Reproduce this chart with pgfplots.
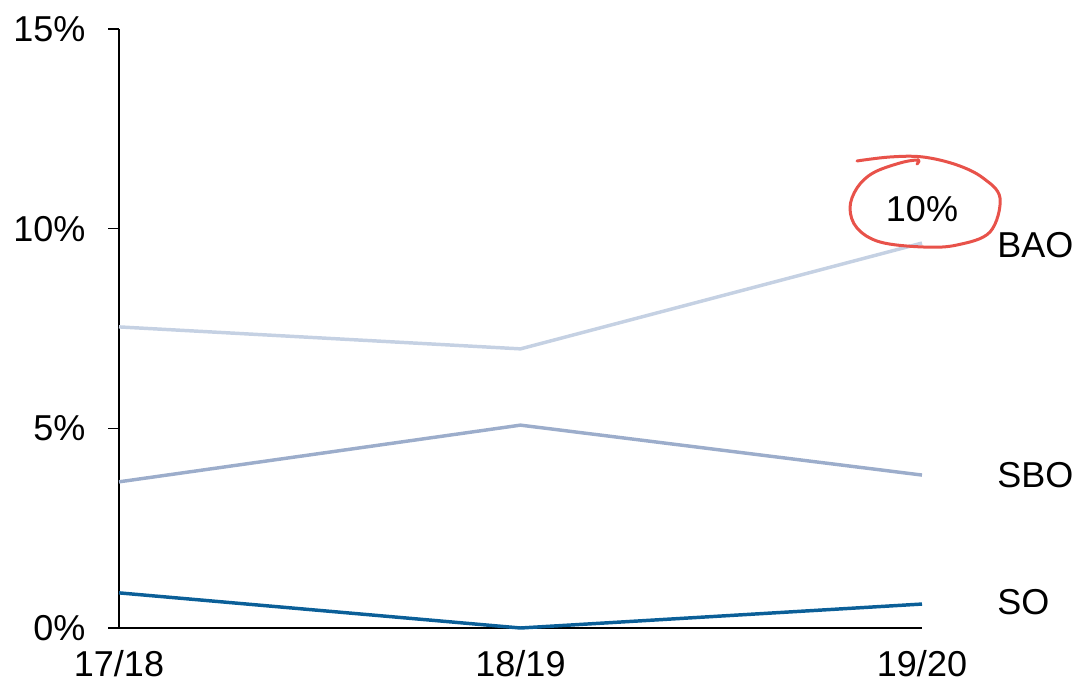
\documentclass[border=0pt]{standalone}
\usepackage{pgfplots}
\pgfplotsset{compat=1.18}
\usepackage{fontspec}
\setmainfont{Liberation Sans}
\definecolor{bao}{HTML}{C5D1E3}
\definecolor{sbo}{HTML}{9CADCB}
\definecolor{so}{HTML}{0B5F98}
\definecolor{redmark}{HTML}{E8524A}
\begin{document}
\fontsize{27pt}{32pt}\selectfont
\begin{tikzpicture}
\begin{axis}[
  scale only axis,
  width=602.25pt, height=449.25pt,
  xmin=0, xmax=2, ymin=0, ymax=15,
  axis x line=bottom, axis y line=left,
  axis line style={-, line width=0.9pt, black},
  xtick={0,1,2}, xticklabels={17/18,18/19,19/20},
  ytick={0,5,10,15}, yticklabels={0\%,5\%,10\%,15\%},
  x tick style={draw=none},
  y tick style={line width=0.9pt, black},
  tick align=outside, major tick length=8pt,
  xticklabel style={anchor=north, inner sep=0pt, yshift=-8.25pt},
  yticklabel style={anchor=east, inner sep=0pt, xshift=-17pt},
  /pgf/number format/assume math mode=true,
  clip=false,
]
\addplot[bao, line width=2.6pt] coordinates {(0,7.54) (1,6.99) (2,9.64)};
\addplot[sbo, line width=2.6pt] coordinates {(0,3.66) (1,5.08) (2,3.83)};
\addplot[so, line width=2.6pt] coordinates {(0,0.88) (1,0) (2,0.60)};
\node[anchor=base west, inner sep=0pt, xshift=56.25pt] at (axis cs:2,9.27) {BAO};
\node[anchor=base west, inner sep=0pt, xshift=56.25pt] at (axis cs:2,3.51) {SBO};
\node[anchor=base west, inner sep=0pt, xshift=56.25pt] at (axis cs:2,0.33) {SO};
\node[anchor=base, inner sep=0pt] at (axis cs:2,10.17) {10\%};
\coordinate (c) at (axis cs:2,10.643);
\end{axis}
\begin{scope}[shift={(c)}, x=1pt, y=1pt]
\draw[redmark, line width=2.25pt, line cap=round, line join=round] plot[smooth, tension=0.6] coordinates {
 (-48.75,31.5) (-24,34.5) (0.75,34.5) (26.25,28.5) (45.75,18.75) (58.5,3.75)
 (51,-21.75) (26.25,-31.5) (0.75,-33) (-31.5,-29.25) (-48.75,-18.75) (-54,-3.75)
 (-48.75,11.25) (-36.75,22.5) (-16.5,30) (-3,32.25) (-3.75,29.25)};
\end{scope}
\pgfresetboundingbox
\useasboundingbox (-89.25pt,-38.25pt) rectangle (719.25pt,471pt);
\end{tikzpicture}
\end{document}
